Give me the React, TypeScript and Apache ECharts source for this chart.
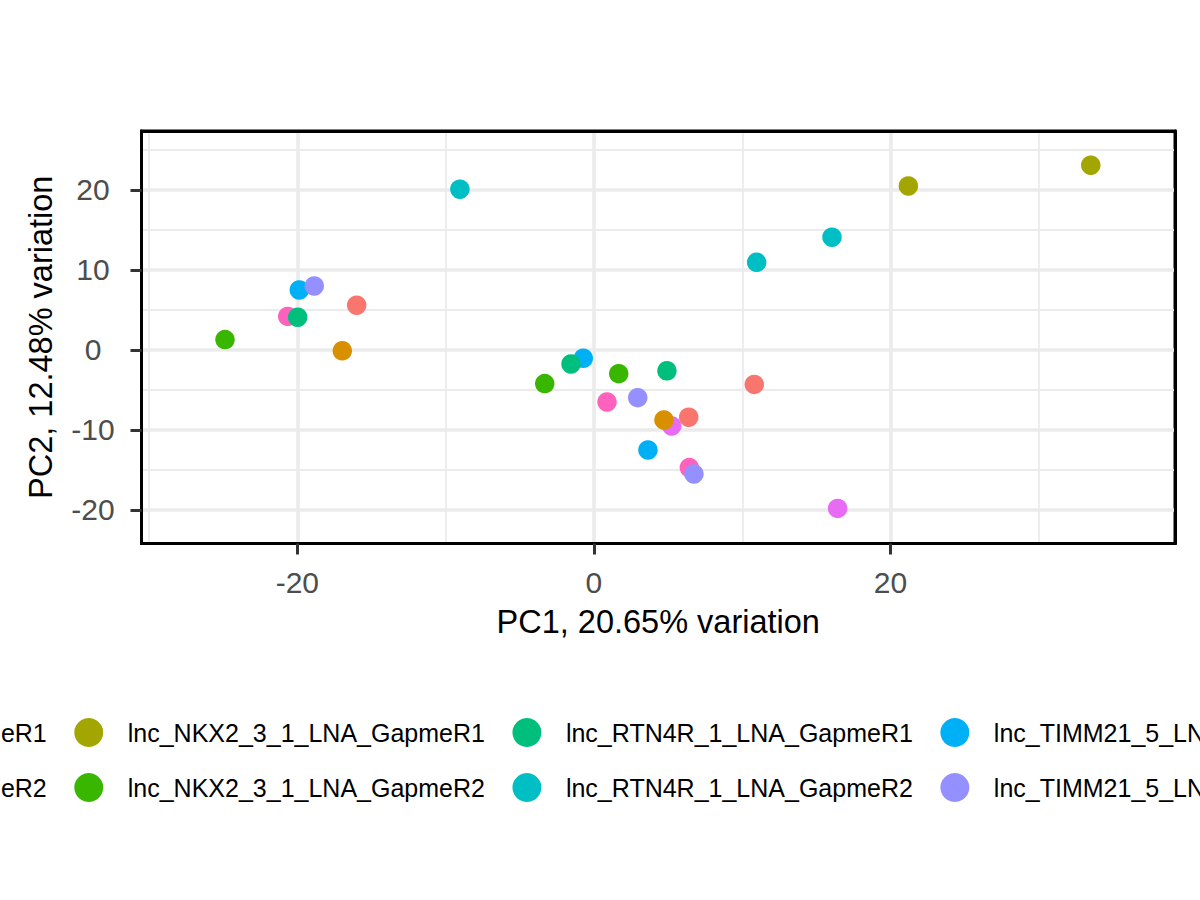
import React, { useEffect, useRef } from 'react';
import * as echarts from 'echarts';

// sample groups (legend order, ggplot hue palette)
const groupNames = [
  'lnc_GAS5_2_LNA_GapmeR1',
  'lnc_GAS5_2_LNA_GapmeR2',
  'lnc_NKX2_3_1_LNA_GapmeR1',
  'lnc_NKX2_3_1_LNA_GapmeR2',
  'lnc_RTN4R_1_LNA_GapmeR1',
  'lnc_RTN4R_1_LNA_GapmeR2',
  'lnc_TIMM21_5_LNA_GapmeR1',
  'lnc_TIMM21_5_LNA_GapmeR2',
  'lnc_ZFAS1_1_LNA_GapmeR1',
  'lnc_ZFAS1_1_LNA_GapmeR2',
];
const groupColors = [
  '#F8766D', '#D89000', '#A3A500', '#39B600', '#00BF7D',
  '#00BFC4', '#00B0F6', '#9590FF', '#E76BF3', '#FF62BC',
];

// PC1, PC2 per sample
const gas5R1 = [[-16.0, 5.6], [10.81, -4.3], [6.39, -8.4]];
const gas5R2 = [[-16.97, -0.1], [4.72, -8.75]];
const nkxR1 = [[21.2, 20.5], [33.5, 23.1]];
const nkxR2 = [[-24.88, 1.3], [-3.32, -4.2], [1.67, -2.96]];
const rtnR1 = [[-19.98, 4.1], [-1.55, -1.75], [4.92, -2.6]];
const rtnR2 = [[-9.04, 20.1], [10.97, 10.96], [16.05, 14.1]];
const timmR1 = [[-19.87, 7.5], [-0.72, -1.04], [3.64, -12.5]];
const timmR2 = [[-18.86, 8.0], [2.95, -5.96], [6.74, -15.5]];
const zfasR1 = [[5.24, -9.5], [16.43, -19.8]];
const zfasR2 = [[-20.65, 4.2], [0.88, -6.5], [6.43, -14.7]];

const groupPoints = [gas5R1, gas5R2, nkxR1, nkxR2, rtnR1, rtnR2, timmR1, timmR2, zfasR1, zfasR2];
// drawing order (later on top)
const drawOrder = [9, 8, 6, 7, 0, 2, 3, 5, 4, 1];

const xMajor = [-20, 0, 20];
const xMinor = [-30, -10, 10, 30];
const yMajor = [-20, -10, 0, 10, 20];
const yMinor = [-15, -5, 5, 15, 25];
const xRange = [-30.51, 39.18];
const yRange = [-24.19, 27.375];

const FONT = 'Liberation Sans, Arial, Helvetica, sans-serif';
const GRID = '#EBEBEB';

const App: React.FC = () => {
  const chartRef = useRef<HTMLDivElement>(null);

  useEffect(() => {
    if (!chartRef.current) return;
    const chart = echarts.init(chartRef.current, undefined, { renderer: 'svg' });

    const border = { show: true, onZero: false, lineStyle: { color: '#000000', width: 3 } };
    const tickLabel = { color: '#4D4D4D', fontSize: 30, fontFamily: FONT };
    const tick = { show: true, length: 11, lineStyle: { color: '#333333', width: 3 } };

    const option: echarts.EChartsOption = {
      animation: false,
      backgroundColor: '#FFFFFF',
      grid: {
        left: 141.5,
        top: 131,
        right: 25,
        bottom: 356.5,
        show: true,
        borderColor: '#000000',
        borderWidth: 3,
        backgroundColor: 'transparent',
      },
      xAxis: [
        {
          type: 'value',
          min: xRange[0],
          max: xRange[1],
          position: 'bottom',
          axisLine: border,
          axisTick: { ...tick, customValues: xMajor },
          axisLabel: { ...tickLabel, margin: 24, customValues: xMajor },
          splitLine: { show: true, lineStyle: { color: GRID, width: 3.6 } },
          name: 'PC1, 20.65% variation',
          nameLocation: 'middle',
          nameGap: 62,
          nameTextStyle: { color: '#000000', fontSize: 32.5, fontFamily: FONT },
        },
        {
          type: 'value',
          min: xRange[0],
          max: xRange[1],
          position: 'top',
          axisLine: border,
          axisTick: { show: false, customValues: xMinor },
          axisLabel: { show: false },
          splitLine: { show: true, lineStyle: { color: GRID, width: 1.8 } },
        },
      ],
      yAxis: [
        {
          type: 'value',
          min: yRange[0],
          max: yRange[1],
          position: 'left',
          axisLine: border,
          axisTick: { ...tick, customValues: yMajor },
          axisLabel: { ...tickLabel, align: 'center', margin: 48.5, customValues: yMajor },
          splitLine: { show: true, lineStyle: { color: GRID, width: 3.6 } },
          name: 'PC2, 12.48% variation',
          nameLocation: 'middle',
          nameGap: 84.5,
          nameTextStyle: { color: '#000000', fontSize: 32.5, fontFamily: FONT },
        },
        {
          type: 'value',
          min: yRange[0],
          max: yRange[1],
          position: 'right',
          axisLine: border,
          axisTick: { show: false, customValues: yMinor },
          axisLabel: { show: false },
          splitLine: { show: true, lineStyle: { color: GRID, width: 1.8 } },
        },
      ],
      legend: [0, 1].map((row) => ({
        show: true,
        orient: 'horizontal',
        left: -337.5,
        top: row === 0 ? 718 : 773,
        width: 3000,
        padding: 0,
        itemGap: 27.5,
        itemWidth: 29,
        itemHeight: 29,
        icon: 'circle',
        data: groupNames.filter((_, i) => i % 2 === row),
        textStyle: {
          color: '#000000',
          fontSize: 25,
          fontFamily: FONT,
          padding: [0, 0, 0, 19.5],
        },
      })) as any,
      series: drawOrder.map((g) => ({
        name: groupNames[g],
        type: 'scatter',
        xAxisIndex: 0,
        yAxisIndex: 0,
        symbol: 'circle',
        symbolSize: 19.5,
        itemStyle: { color: groupColors[g], opacity: 1 },
        data: groupPoints[g],
      })),
    };

    chart.setOption(option);
    return () => {
      chart.dispose();
    };
  }, []);

  return (
    <div
      ref={chartRef}
      style={{ position: 'fixed', left: 0, top: 0, width: 1200, height: 900 }}
    />
  );
};

export default App;
